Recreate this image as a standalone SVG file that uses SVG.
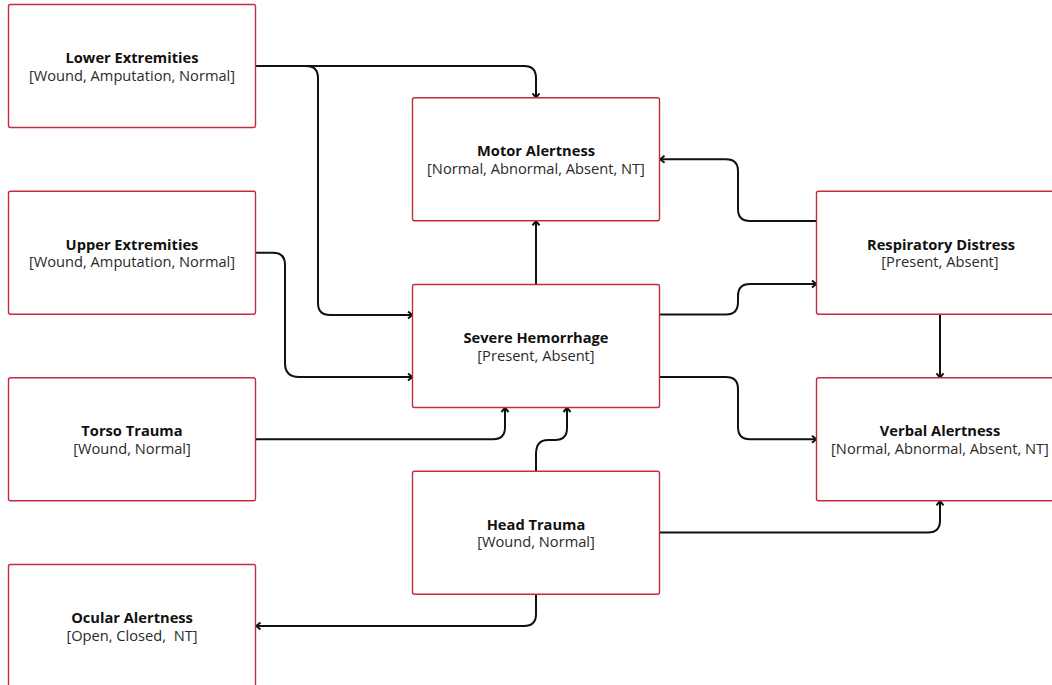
<svg xmlns="http://www.w3.org/2000/svg" width="1052" height="685" viewBox="0 0 1052 685">
<style>
.box{fill:#fff;stroke:#c42a42;stroke-width:1.4}
.t{font-family:"Open Sans","Liberation Sans",sans-serif;font-size:14.67px;text-anchor:middle;fill:#111;white-space:pre}
.b{font-weight:bold}
.s{fill:#2a2a2a}
.c{fill:none;stroke:#111;stroke-width:2;marker-end:url(#ah)}
</style>
<defs>
<marker id="ah" markerUnits="userSpaceOnUse" markerWidth="10" markerHeight="10" viewBox="0 0 10 10" refX="9" refY="5" orient="auto">
<path d="M4.5,1.5 L8.8,5 L4.5,8.5" fill="none" stroke="#111" stroke-width="2"/>
</marker>
</defs>
<rect width="1052" height="685" fill="#fff"/>
<g id="connectors">
<path class="c" d="M256,66 H524 Q536,66 536,78 V97.8"/>
<path class="c" d="M256,66 H306 Q318,66 318,78 V303 Q318,315 330,315 H412.5"/>
<path class="c" d="M256,252.7 H273 Q285,252.7 285,264.7 V363 Q285,377 299,377 H412.5"/>
<path class="c" d="M256,439.3 H493 Q505,439.3 505,427.3 V407.5"/>
<path class="c" d="M536,471.2 V454 Q536,440 548,440 H555 Q567,440 567,428 V407.5"/>
<path class="c" d="M536,284.5 V220.8"/>
<path class="c" d="M660,314.5 H726 Q738,314.5 738,302 V296 Q738,284 750,284 H816.5"/>
<path class="c" d="M816.5,221 H750 Q738,221 738,209 V171 Q738,159.3 726,159.3 H660"/>
<path class="c" d="M940,314.2 V377.8"/>
<path class="c" d="M660,377 H726 Q738,377 738,389 V427 Q738,439.3 750,439.3 H816.5"/>
<path class="c" d="M660,532.5 H928 Q940,532.5 940,520.5 V500.8"/>
<path class="c" d="M536,594.2 V614 Q536,626 524,626 H256"/>
</g>
<g id="lower-extremities">
<rect class="box" x="8.5" y="4.5" width="247" height="123" rx="2"/>
<text class="t b" x="132" y="63">Lower Extremities</text>
<text class="t s" x="132" y="80.5">[Wound, Amputation, Normal]</text>
</g>
<g id="upper-extremities">
<rect class="box" x="8.5" y="191.2" width="247" height="123" rx="2"/>
<text class="t b" x="132" y="249.7">Upper Extremities</text>
<text class="t s" x="132" y="267.2">[Wound, Amputation, Normal]</text>
</g>
<g id="torso-trauma">
<rect class="box" x="8.5" y="377.8" width="247" height="123" rx="2"/>
<text class="t b" x="132" y="436.3">Torso Trauma</text>
<text class="t s" x="132" y="453.8">[Wound, Normal]</text>
</g>
<g id="ocular-alertness">
<rect class="box" x="8.5" y="564.5" width="247" height="123" rx="2"/>
<text class="t b" x="132" y="623">Ocular Alertness</text>
<text class="t s" x="132" y="640.5">[Open, Closed,  NT]</text>
</g>
<g id="motor-alertness">
<rect class="box" x="412.5" y="97.8" width="247" height="123" rx="2"/>
<text class="t b" x="536" y="156.3">Motor Alertness</text>
<text class="t s" x="536" y="173.8">[Normal, Abnormal, Absent, NT]</text>
</g>
<g id="severe-hemorrhage">
<rect class="box" x="412.5" y="284.5" width="247" height="123" rx="2"/>
<text class="t b" x="536" y="343">Severe Hemorrhage</text>
<text class="t s" x="536" y="360.5">[Present, Absent]</text>
</g>
<g id="head-trauma">
<rect class="box" x="412.5" y="471.2" width="247" height="123" rx="2"/>
<text class="t b" x="536" y="529.7">Head Trauma</text>
<text class="t s" x="536" y="547.2">[Wound, Normal]</text>
</g>
<g id="respiratory-distress">
<rect class="box" x="816.5" y="191.2" width="247" height="123" rx="2"/>
<text class="t b" x="941" y="249.7">Respiratory Distress</text>
<text class="t s" x="940" y="267.2">[Present, Absent]</text>
</g>
<g id="verbal-alertness">
<rect class="box" x="816.5" y="377.8" width="247" height="123" rx="2"/>
<text class="t b" x="940" y="436.3">Verbal Alertness</text>
<text class="t s" x="940" y="453.8">[Normal, Abnormal, Absent, NT]</text>
</g>
</svg>
